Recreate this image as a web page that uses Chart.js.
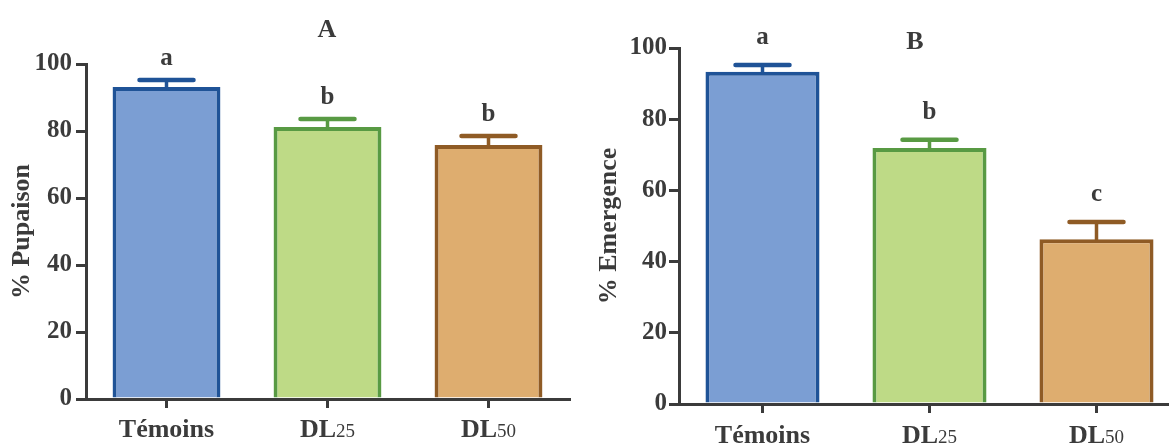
<!DOCTYPE html>
<html>
<head>
<meta charset="utf-8">
<script src="https://cdn.jsdelivr.net/npm/chart.js@4.4.1/dist/chart.umd.min.js"></script>
<style>
  html, body { margin: 0; padding: 0; background: #fff; overflow: hidden; width: 1169px; height: 446px; }
  .panel { position: absolute; top: 0; }
  #pA { left: 0; }
  #pB { left: 585px; }
</style>
</head>
<body>
<div class="panel" id="pA"><canvas id="cA" width="600" height="446"></canvas></div>
<div class="panel" id="pB"><canvas id="cB" width="620" height="446"></canvas></div>
<script>
// Treatments
const categories = ['Témoins', 'DL25', 'DL50'];
const labelMain = ['Témoins', 'DL', 'DL'];
const labelSub = ['', '25', '50'];

// A: pupation rate (%), mean and standard error
const pupaison = [93.1, 81.2, 75.8];
const pupaisonErr = [2.1, 2.4, 2.7];
const pupaisonLetters = ['a', 'b', 'b'];

// B: adult emergence rate (%), mean and standard error
const emergence = [93.3, 71.9, 46.3];
const emergenceErr = [1.9, 2.3, 4.8];
const emergenceLetters = ['a', 'b', 'c'];

// Y axis ticks
const yTicks = [0, 20, 40, 60, 80, 100];

const fills = ['#7B9ED3', '#BEDA86', '#DEAD6F'];
const borders = ['#1F5397', '#589A43', '#8F5B25'];
const ink = '#3b3b3b';
const serif = '"Liberation Serif", "DejaVu Serif", serif';

function annotations(errs, letters, titleText, titleDx, titleBaseline, letterGap, labelGap) {
  return {
    id: 'annotations',
    afterDatasetsDraw(chart) {
      const ctx = chart.ctx;
      const meta = chart.getDatasetMeta(0);
      const ys = chart.scales.y;
      const values = chart.data.datasets[0].data;
      ctx.save();
      ctx.lineCap = 'round';
      meta.data.forEach((bar, i) => {
        const top = ys.getPixelForValue(values[i] + errs[i]);
        ctx.strokeStyle = borders[i];
        ctx.lineWidth = 3.5;
        ctx.beginPath();
        ctx.moveTo(bar.x, bar.y);
        ctx.lineTo(bar.x, top);
        ctx.stroke();
        ctx.lineWidth = 4.5;
        ctx.beginPath();
        ctx.moveTo(bar.x - 27, top);
        ctx.lineTo(bar.x + 27, top);
        ctx.stroke();
      });
      ctx.restore();
    },
    afterDraw(chart) {
      const ctx = chart.ctx;
      const area = chart.chartArea;
      const xs = chart.scales.x;
      const ys = chart.scales.y;
      const values = chart.data.datasets[0].data;
      ctx.save();
      ctx.fillStyle = ink;
      ctx.textBaseline = 'alphabetic';
      ctx.textAlign = 'center';

      // significance letters above the error bars
      ctx.font = 'bold 25px ' + serif;
      values.forEach((v, i) => {
        const top = ys.getPixelForValue(v + errs[i]);
        ctx.fillText(letters[i], xs.getPixelForValue(i), top - letterGap);
      });

      // panel title
      ctx.font = 'bold 26px ' + serif;
      ctx.fillText(titleText, area.left + titleDx, titleBaseline);

      // category labels, dose index in smaller type
      const base = area.bottom + labelGap;
      categories.forEach((c, i) => {
        const x = xs.getPixelForValue(i);
        const mainFont = 'bold 26px ' + serif;
        const subFont = '19px ' + serif;
        ctx.font = mainFont;
        const w1 = ctx.measureText(labelMain[i]).width;
        ctx.font = subFont;
        const w2 = labelSub[i] ? ctx.measureText(labelSub[i]).width : 0;
        const start = x - (w1 + w2) / 2;
        ctx.textAlign = 'left';
        ctx.font = mainFont;
        ctx.fillText(labelMain[i], start, base);
        if (labelSub[i]) {
          ctx.font = subFont;
          ctx.fillText(labelSub[i], start + w1, base);
        }
      });
      ctx.restore();
    }
  };
}

function makeChart(id, values, errs, letters, opts) {
  return new Chart(document.getElementById(id), {
    type: 'bar',
    data: {
      labels: categories,
      datasets: [{
        data: values,
        backgroundColor: fills,
        borderColor: borders,
        borderWidth: 4,
        borderSkipped: 'start',
        categoryPercentage: 1,
        barPercentage: opts.barPct
      }]
    },
    options: {
      responsive: false,
      animation: false,
      devicePixelRatio: 1,
      layout: { padding: { top: opts.top, left: 0, right: opts.right, bottom: 0 } },
      plugins: { legend: { display: false }, tooltip: { enabled: false }, title: { display: false } },
      scales: {
        x: {
          type: 'category',
          offset: true,
          z: 1,
          afterFit: s => { s.height = opts.xHeight; },
          grid: { display: true, drawOnChartArea: false, drawTicks: true, tickLength: 9, offset: false, color: ink, lineWidth: 3 },
          border: { display: true, color: ink, width: 3 },
          ticks: { display: false }
        },
        y: {
          min: 0,
          max: 100,
          z: 1,
          afterFit: s => { s.width = opts.yWidth; },
          afterBuildTicks: s => { s.ticks = yTicks.map(v => ({ value: v })); },
          grid: { display: true, drawOnChartArea: false, drawTicks: true, tickLength: 10, color: ink, lineWidth: 3 },
          border: { display: true, color: ink, width: 3 },
          ticks: { color: ink, padding: opts.tickPad, font: { family: serif, size: 25, weight: 'bold' } },
          title: {
            display: true,
            text: opts.yTitle,
            color: ink,
            padding: { top: opts.titlePad, bottom: 0 },
            font: { family: serif, size: 26, weight: 'bold', lineHeight: 1.2 }
          }
        }
      }
    },
    plugins: [annotations(errs, letters, opts.title, opts.titleDx, opts.titleBase, opts.letterGap, opts.labelGap)]
  });
}

makeChart('cA', pupaison, pupaisonErr, pupaisonLetters, {
  top: 64, right: 31, xHeight: 47, yWidth: 86, tickPad: 4, titlePad: 7,
  barPct: 0.67, yTitle: '% Pupaison', title: 'A', titleDx: 241, titleBase: 37,
  letterGap: 15, labelGap: 38
});

makeChart('cB', emergence, emergenceErr, emergenceLetters, {
  top: 48, right: 25, xHeight: 42, yWidth: 94, tickPad: 2, titlePad: 9,
  barPct: 0.683, yTitle: '% Emergence', title: 'B', titleDx: 236, titleBase: 49,
  letterGap: 21, labelGap: 39
});
</script>
</body>
</html>
